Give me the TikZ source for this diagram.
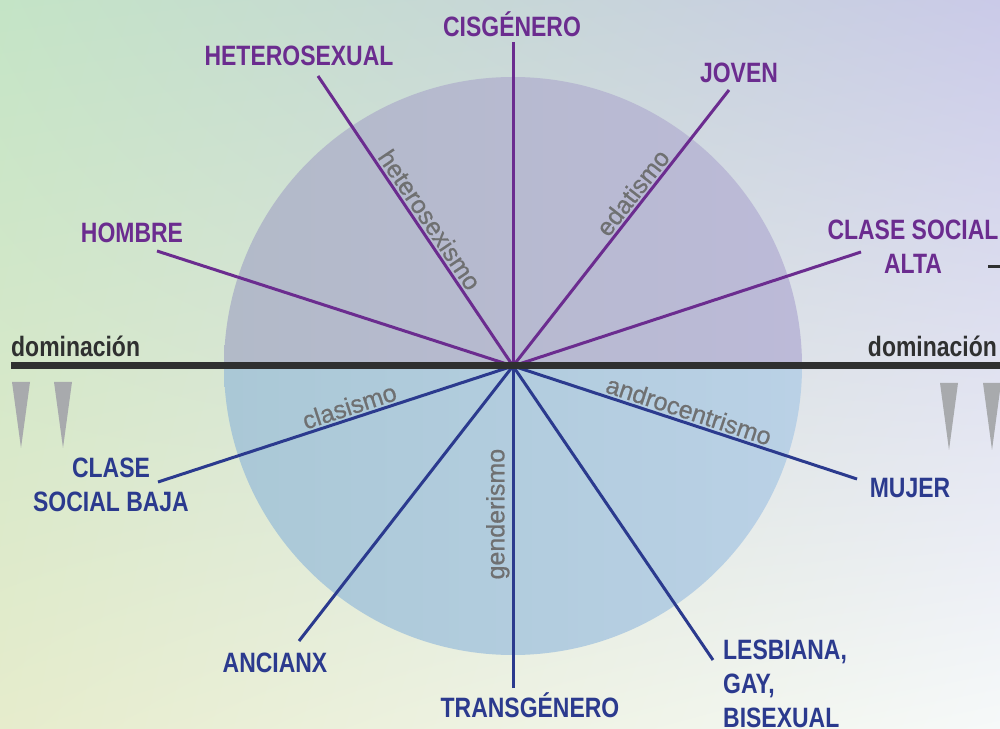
\documentclass[tikz,border=0pt]{standalone}
\usepackage{fontspec}
\setmainfont{Liberation Sans}[FakeStretch=0.82]
\newfontfamily\slimfont{Liberation Sans}[FakeBold=0.7]
\usetikzlibrary{positioning,calc,shadings}

\definecolor{domcolor}{HTML}{6B2C8F}
\definecolor{subcolor}{HTML}{2B3A8E}
\definecolor{ismcolor}{HTML}{6F7071}
\definecolor{axiscolor}{HTML}{2F3030}
\definecolor{dropgray}{HTML}{A8AAAD}
\definecolor{bgTL}{RGB}{196,228,198}
\definecolor{bgTR}{RGB}{202,202,232}
\definecolor{bgBL}{RGB}{230,236,204}
\definecolor{bgBR}{RGB}{246,249,249}
\definecolor{circTL}{RGB}{178,186,200}
\definecolor{circTR}{RGB}{188,186,216}
\definecolor{circBL}{RGB}{170,200,214}
\definecolor{circBR}{RGB}{186,209,230}

\tikzset{
  toplabel/.style={font=\fontsize{28}{34}\selectfont\bfseries, text=domcolor, inner sep=0pt},
  lowlabel/.style={font=\fontsize{28}{34}\selectfont\bfseries, text=subcolor, inner sep=0pt},
  domlabel/.style={font=\fontsize{28}{34}\selectfont\bfseries, text=axiscolor, inner sep=0pt},
  ism/.style={font=\slimfont\fontsize{25}{30}\selectfont, text=ismcolor, sloped, above, inner sep=2pt},
  topray/.style={draw=domcolor, line width=3pt},
  lowray/.style={draw=subcolor, line width=3pt},
  drop/.style={fill=dropgray},
}

\begin{document}
\begin{tikzpicture}[x=1pt, y=1pt]
	% Background
	\shade[upper left=bgTL, upper right=bgTR, lower left=bgBL, lower right=bgBR]
		(0,0) rectangle (1000,728);
	\useasboundingbox (0,0) rectangle (1000,728);

	% The circle
	\coordinate (O) at (513,362);
	\shade[left color=circTL, right color=circTR]
		(224,362) arc[start angle=180, end angle=0, radius=289] -- cycle;
	\shade[left color=circBL, right color=circBR]
		(224,362) arc[start angle=180, end angle=360, radius=289] -- cycle;

	% Draw the labels
	\node[toplabel, anchor=base] (cis) at (512,691) {CISGÉNERO};
	\node[toplabel, anchor=base] (het) at (299,662) {HETEROSEXUAL};
	\node[toplabel, anchor=base] (joven) at (739,645) {JOVEN};
	\node[toplabel, anchor=base] (hombre) at (132,485) {HOMBRE};
	\node[toplabel, anchor=north, align=center] (alta) at (913,508) {CLASE SOCIAL\\ALTA};
	\node[lowlabel, anchor=base] (mujer) at (910,230) {MUJER};
	\node[lowlabel, anchor=north west, align=left] (lgb) at (723,88) {LESBIANA,\\GAY,\\BISEXUAL};
	\node[lowlabel, anchor=base] (trans) at (530,11) {TRANSGÉNERO};
	\node[lowlabel, anchor=base] (ancianx) at (275,56) {ANCIANX};
	\node[lowlabel, anchor=north, align=center] (baja) at (111,270) {CLASE\\SOCIAL BAJA};
	\node[domlabel, anchor=base west] (domL) at (11,371) {dominación};
	\node[domlabel, anchor=base east] (domR) at (997,371) {dominación};

	% Ends of the rays
	\coordinate (cis-end) at (513,686);
	\coordinate (het-end) at (318,652);
	\coordinate (joven-end) at (729,638);
	\coordinate (hombre-end) at (157,477);
	\coordinate (alta-end) at (861,476);
	\coordinate (mujer-end) at (857,249);
	\coordinate (lgb-end) at (713,68);
	\coordinate (trans-end) at (513,40);
	\coordinate (ancianx-end) at (299,87);
	\coordinate (baja-end) at (158,246);

	% Connect the centre with the rays
	\draw[topray] (O) -- (cis-end);
	\draw[topray] (O) -- (het-end) node[ism, pos=0.48] {heterosexismo};
	\draw[topray] (O) -- (joven-end) node[ism, pos=0.60] {edatismo};
	\draw[topray] (O) -- (hombre-end);
	\draw[topray] (O) -- (alta-end);
	\draw[lowray] (O) -- (mujer-end) node[ism, pos=0.50] {androcentrismo};
	\draw[lowray] (O) -- (lgb-end);
	\draw[lowray] (trans-end) -- (O) node[ism, pos=0.54] {genderismo};
	\draw[lowray] (O) -- (ancianx-end);
	\draw[lowray] (O) -- (baja-end) node[ism, pos=0.45] {clasismo};

	% The axis of domination
	\coordinate (axis-l) at (11,362);
	\coordinate (axis-r) at (1000,362);
	\draw[axiscolor, line width=7pt] (axis-l) -- (axis-r);
	\draw[axiscolor, line width=3pt] (988,461) -- (1000,461);

	% Drops under the axis
	\fill[drop] (12,346) -- (30,346) -- (21,280) -- cycle;
	\fill[drop] (54,346) -- (72,346) -- (63,280) -- cycle;
	\fill[drop] (940,345) -- (958,345) -- (949,278) -- cycle;
	\fill[drop] (983,345) -- (1001,345) -- (992,278) -- cycle;
\end{tikzpicture}
\end{document}
